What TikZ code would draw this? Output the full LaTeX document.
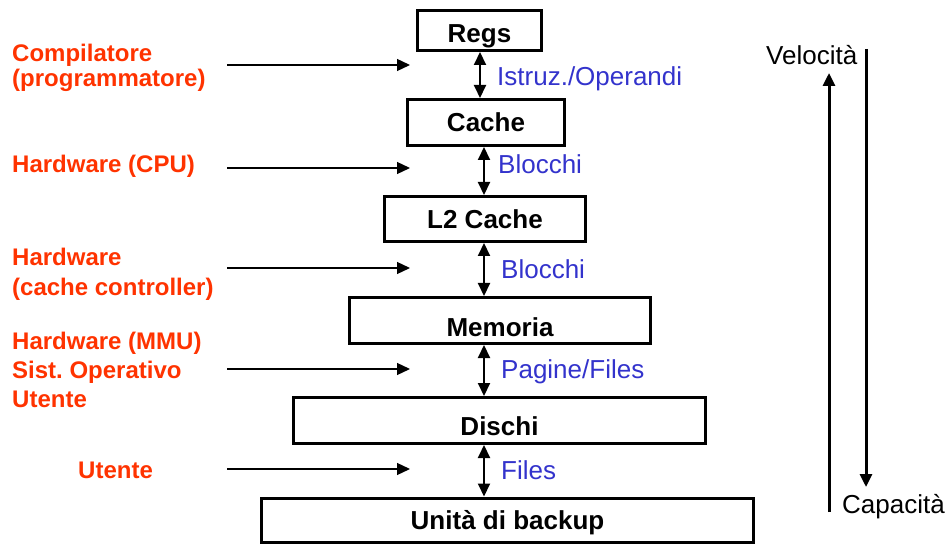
\documentclass[tikz,border=0pt]{standalone}
\usepackage{fontspec}
\setmainfont{Liberation Sans}
\usetikzlibrary{arrows.meta}
\definecolor{whored}{RGB}{255,51,0}
\definecolor{unitblue}{RGB}{51,51,204}
\frenchspacing

\begin{document}
\begin{tikzpicture}[x=1pt, y=-1pt,
  >={Triangle[length=13pt, width=12pt]},
  level/.style={draw, line width=3pt, inner sep=0pt, text depth=0pt,
    text height=19pt, font=\bfseries\fontsize{26}{30}\selectfont},
  who/.style={anchor=base west, align=left, inner sep=0pt, text=whored,
    font=\bfseries\fontsize{24}{29}\selectfont},
  unit/.style={anchor=base west, inner sep=0pt, text=unitblue,
    font=\fontsize{26}{30}\selectfont},
  axis/.style={anchor=base west, inner sep=0pt, font=\fontsize{26}{30}\selectfont}]
  \useasboundingbox (0,0) rectangle (950,545);

  % the levels of the hierarchy
  \node[level, minimum width=124pt, minimum height=40pt, text height=25pt] (regs) at (479.5,30.5) {Regs};
  \node[level, minimum width=157pt, minimum height=46pt] (cache) at (486,122.5) {Cache};
  \node[level, minimum width=201pt, minimum height=45pt] (l2) at (485,219) {L2 Cache};
  \node[level, minimum width=301pt, minimum height=46pt, text height=31pt] (mem) at (500,320.5) {Memoria};
  \node[level, minimum width=412pt, minimum height=46pt, text height=29pt] (disk) at (499.5,420.5) {Dischi};
  \node[level, minimum width=492pt, minimum height=44pt] (backup) at (507.5,520) {Unità di backup};

  % transfers between levels
  \draw[<->, line width=2pt] (regs.south -| 480,0) -- (cache.north -| 480,0);
  \draw[<->, line width=2pt] (cache.south -| 484,0) -- (l2.north -| 484,0);
  \draw[<->, line width=2pt] (l2.south -| 484,0) -- (mem.north -| 484,0);
  \draw[<->, line width=2pt] (mem.south -| 484,0) -- (disk.north -| 484,0);
  \draw[<->, line width=2pt] (disk.south -| 484,0) -- (backup.north -| 484,0);

  \node[unit] (istr) at (497,86) {Istruz./Operandi};
  \node[unit] (blkA) at (498,174) {Blocchi};
  \node[unit] (blkB) at (501,279) {Blocchi};
  \node[unit] (pages) at (501,378) {Pagine/Files};
  \node[unit] (files) at (501,479) {Files};

  % who moves the data (base = last line)
  \node[who] (comp) at (12,86.5) {Compilatore\\[-4pt](programmatore)};
  \node[who] (hwcpu) at (12,173) {Hardware (CPU)};
  \node[who] (hwcc) at (12,295) {Hardware\\[1pt](cache controller)};
  \node[who] (hwmmu) at (12,407) {Hardware (MMU)\\Sist. Operativo\\Utente};
  \node[who] (user) at (78,478) {Utente};

  \foreach \y [count=\i] in {65,168,268,369,469} {
    \coordinate (from\i) at (227,\y);
    \coordinate (to\i) at (410,\y);
    \draw[->, line width=1.3pt] (from\i) -- (to\i);
  }

  % speed / capacity
  \coordinate (vtop) at (866,49);
  \coordinate (vbot) at (866,487);
  \coordinate (ctop) at (829,73);
  \coordinate (cbot) at (829,512);
  \draw[->, line width=3pt] (vtop) -- (vbot);
  \draw[->, line width=3pt] (cbot) -- (ctop);
  \node[axis] (speed) at (766,65) {Velocità};
  \node[axis] (size) at (842,513) {Capacità};

\end{tikzpicture}
\end{document}
